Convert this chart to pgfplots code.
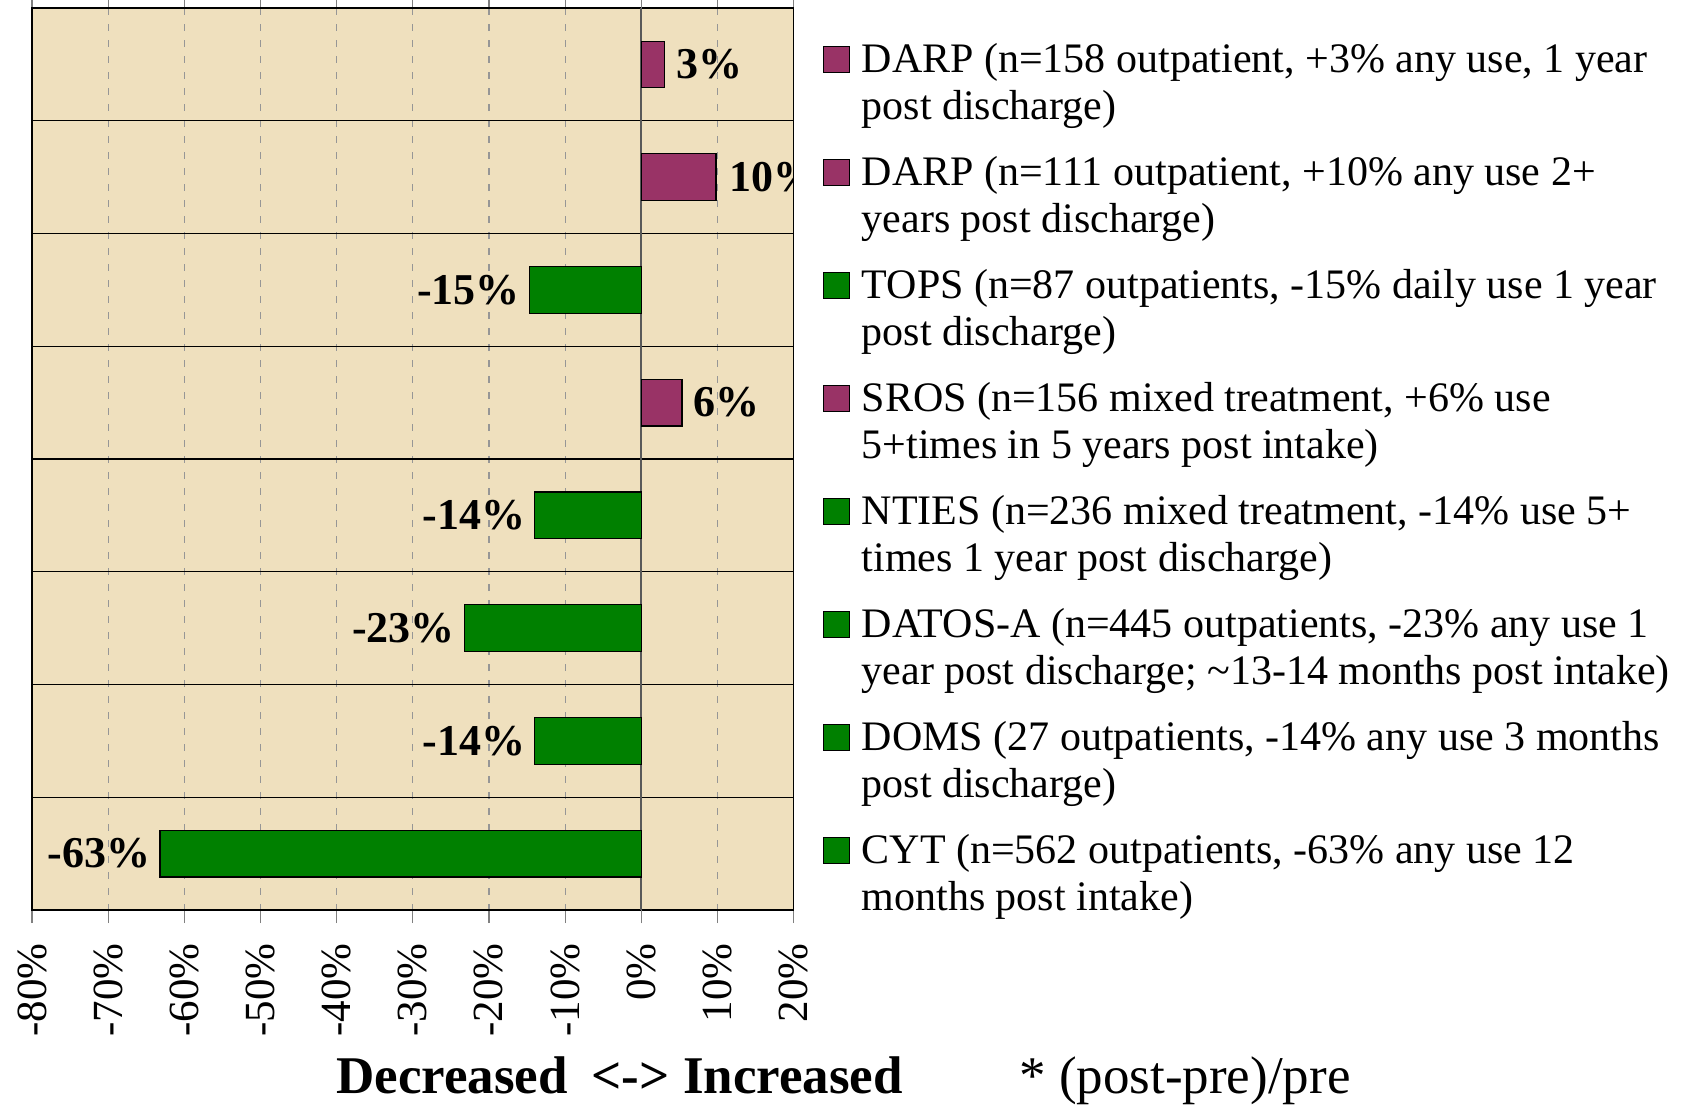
\documentclass[border=0pt]{standalone}
\usepackage{fontspec}
\setmainfont{Liberation Serif}
\usepackage{pgfplots}
\pgfplotsset{compat=1.18}
\definecolor{parch}{RGB}{239,224,190}
\definecolor{barmag}{RGB}{153,51,102}
\definecolor{bargreen}{RGB}{0,128,0}
\definecolor{gridgray}{RGB}{150,150,150}
\newcommand{\legtext}[2]{\hspace{6pt}\parbox[t]{410pt}{\fontsize{21}{23.5}\selectfont #1\\#2}\rule{0pt}{16pt}}
\begin{document}
\begin{tikzpicture}
\begin{axis}[
  at={(0,0)}, anchor=south west,
  width=380.8pt, height=451pt, scale only axis,
  xbar, bar width=23.3pt,
  xmin=-80, xmax=20, ymin=0.5, ymax=8.5, y dir=reverse,
  xtick={-80,-70,...,20},
  xticklabels={-80\%,-70\%,-60\%,-50\%,-40\%,-30\%,-20\%,-10\%,0\%,10\%,20\%},
  xticklabel style={rotate=90, anchor=east, font=\fontsize{21.5}{21.5}\selectfont, inner sep=0pt},
  xticklabel shift=10pt,
  tick align=outside, major tick length=6.5pt,
  xtick style={draw=gray, line width=0.6pt},
  xmajorgrids,
  x grid style={gridgray, line width=0.6pt, dash pattern=on 3.5pt off 4.5pt},
  ytick={0.5,1.5,...,8.5}, yticklabels={}, ymajorgrids,
  y grid style={black, line width=0.6pt, solid},
  ytick style={draw=none},
  extra x ticks={0}, extra x tick labels={},
  extra x tick style={xmajorgrids=true, x grid style={solid, draw=black!65, line width=0.8pt}},
  axis background/.style={fill=parch},
  axis line style={black, line width=0.6pt},
  clip marker paths=true,
  point meta=explicit symbolic,
  nodes near coords={\pgfplotspointmeta},
  nodes near coords style={font=\bfseries\fontsize{22}{22}\selectfont, inner sep=0pt, text=black},
  legend image code/.code={\draw[#1, draw=black, line width=0.4pt] (0pt,0pt) rectangle (13pt,13pt);},
  legend cell align=left,
  legend style={at={(1.0302,0.969)}, anchor=north west, draw=none, fill=none,
    font=\fontsize{21}{23.5}\selectfont, row sep=39pt, nodes={inner sep=0pt}, cells={anchor=base west}},
]
\addplot[fill=barmag, draw=black, line width=0.6pt, bar shift=0pt,
  every node near coord/.append style={anchor=west, xshift=5.5pt}] coordinates {(3.1,1) [3\%]};
\addlegendentry{\legtext{DARP (n=158 outpatient, +3\% any use, 1 year}{post discharge)}}
\addplot[fill=barmag, draw=black, line width=0.6pt, bar shift=0pt,
  every node near coord/.append style={anchor=west, xshift=6.5pt}] coordinates {(9.8,2) [10\%]};
\addlegendentry{\legtext{DARP (n=111 outpatient, +10\% any use 2+}{years post discharge)}}
\addplot[fill=bargreen, draw=black, line width=0.6pt, bar shift=0pt,
  every node near coord/.append style={anchor=east, xshift=-4.5pt}] coordinates {(-14.7,3) [-15\%]};
\addlegendentry{\legtext{TOPS (n=87 outpatients, -15\% daily use 1 year}{post discharge)}}
\addplot[fill=barmag, draw=black, line width=0.6pt, bar shift=0pt,
  every node near coord/.append style={anchor=west, xshift=5.5pt}] coordinates {(5.35,4) [6\%]};
\addlegendentry{\legtext{SROS (n=156 mixed treatment, +6\% use}{5+times in 5 years post intake)}}
\addplot[fill=bargreen, draw=black, line width=0.6pt, bar shift=0pt,
  every node near coord/.append style={anchor=east, xshift=-4.5pt}] coordinates {(-14,5) [-14\%]};
\addlegendentry{\legtext{NTIES (n=236 mixed treatment, -14\% use 5+}{times 1 year post discharge)}}
\addplot[fill=bargreen, draw=black, line width=0.6pt, bar shift=0pt,
  every node near coord/.append style={anchor=east, xshift=-4.5pt}] coordinates {(-23.2,6) [-23\%]};
\addlegendentry{\legtext{DATOS-A (n=445 outpatients, -23\% any use 1}{year post discharge; \textasciitilde13-14 months post intake)}}
\addplot[fill=bargreen, draw=black, line width=0.6pt, bar shift=0pt,
  every node near coord/.append style={anchor=east, xshift=-4.5pt}] coordinates {(-14,7) [-14\%]};
\addlegendentry{\legtext{DOMS (27 outpatients, -14\% any use 3 months}{post discharge)}}
\addplot[fill=bargreen, draw=black, line width=0.6pt, bar shift=0pt,
  every node near coord/.append style={anchor=east, xshift=-4.5pt}] coordinates {(-63.2,8) [-63\%]};
\addlegendentry{\legtext{CYT (n=562 outpatients, -63\% any use 12}{months post intake)}}
\end{axis}
\node[anchor=base west, font=\bfseries\fontsize{26.5}{26.5}\selectfont, inner sep=0pt] at (152pt,-91.5pt) {Decreased\hspace{0.2em} <-> Increased};
\node[anchor=base west, font=\fontsize{26.5}{26.5}\selectfont, inner sep=0pt] at (493.5pt,-91.5pt) {* (post-pre)/pre};
\pgfresetboundingbox
\path (-16pt,-97pt) rectangle (825pt,455pt);
\end{tikzpicture}
\end{document}
